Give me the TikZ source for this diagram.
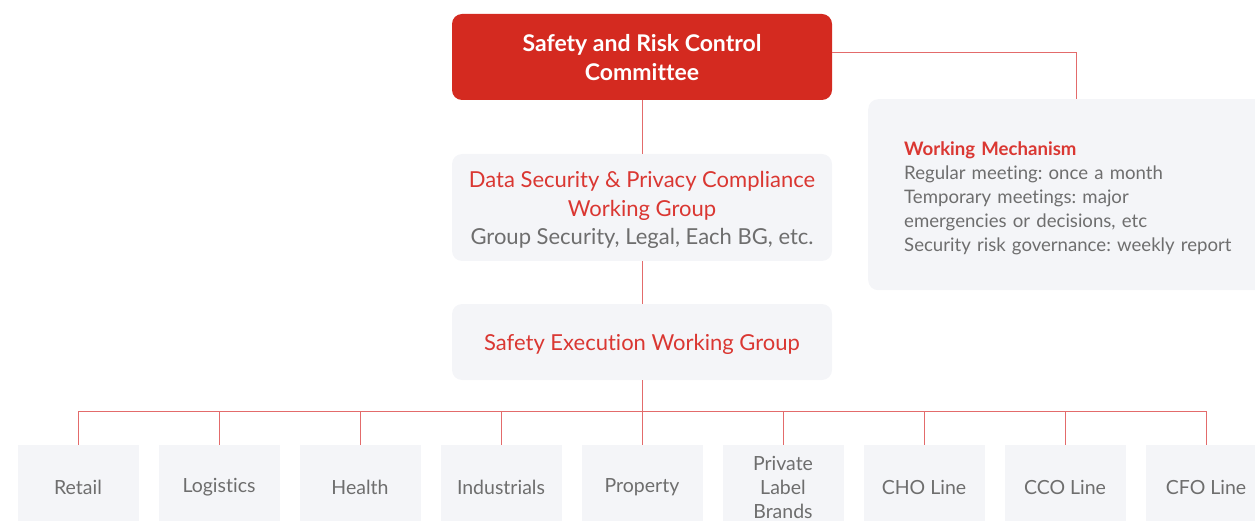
\documentclass[tikz,border=0pt]{standalone}
\usepackage{fontspec}
\setmainfont{Lato}[Ligatures=NoCommon]
\frenchspacing
\usetikzlibrary{positioning}
\definecolor{brandred}{HTML}{D42A20}
\definecolor{linered}{HTML}{E36B6B}
\definecolor{textred}{HTML}{DA3732}
\definecolor{textgray}{HTML}{6E6E6E}
\definecolor{boxgray}{HTML}{F4F5F8}
\newcommand{\lift}[1]{\rule{0pt}{#1}}
\tikzset{
  panel/.style={fill=boxgray, rounded corners=10pt, minimum width=380pt, align=center, inner sep=0pt, font=\fontsize{22}{28.5}\selectfont},
  unitbox/.style={fill=boxgray, minimum width=121pt, minimum height=84pt, align=center, inner sep=0pt, text=textgray, font=\fontsize{19.5}{24}\selectfont},
  link/.style={draw=linered, line width=1pt},
}
\begin{document}
\begin{tikzpicture}[x=1pt,y=-1pt]
    \useasboundingbox (0,0) rectangle (1255,521);
    \clip (0,0) rectangle (1255,521);
    % top of the chart
    \node[fill=brandred, rounded corners=10pt, minimum width=380pt, minimum height=86pt, align=center, text=white, font=\fontsize{23}{29}\selectfont\bfseries] (committee) at (642,57) {\lift{19pt}Safety and Risk Control\\Committee};
    \node[fill=boxgray, rounded corners=10pt, anchor=north west, minimum width=416pt, minimum height=191pt, text width=344pt, inner xsep=36pt, inner ysep=0pt, align=left, text=textgray, font=\fontsize{18.6}{24}\selectfont] (mechanism) at (868,99) {\lift{20pt}{\color{textred}\bfseries Working Mechanism}\\Regular meeting: once a month\\Temporary meetings: major\\emergencies or decisions, etc\\Security risk governance: weekly report};
    \node[panel, minimum height=107pt] (privacy) at (642,207.5) {\lift{22pt}{\color{textred}Data Security \& Privacy Compliance}\\{\color{textred}Working Group}\\{\color{textgray}Group Security, Legal, Each BG, etc.}};
    \node[panel, minimum height=76pt, text=textred] (execution) at (642,342) {\lift{22pt}Safety Execution Working Group};
    % business lines
    \foreach \name/\label [count=\i] in {retail/Retail, logistics/Logistics, health/Health, industrials/Industrials, property/Property, brands/{Private\\Label\\Brands}, cho/CHO Line, cco/CCO Line, cfo/CFO Line}
        \node[unitbox] (\name) at ({78+141*(\i-1)},487) {\label};
    \coordinate (bus) at (642,411);
    \draw[link] (committee.south) -- (privacy.north);
    \draw[link] (privacy.south) -- (execution.north);
    \draw[link] ([yshift=4pt]committee.east) -| (mechanism.north);
    \draw[link] (execution.south) -- (bus);
    \draw[link] (bus -| retail.north) -- (bus -| cfo.north);
    \foreach \name in {retail, logistics, health, industrials, property, brands, cho, cco, cfo}
        \draw[link] (bus -| \name.north) -- (\name.north);
\end{tikzpicture}
\end{document}
